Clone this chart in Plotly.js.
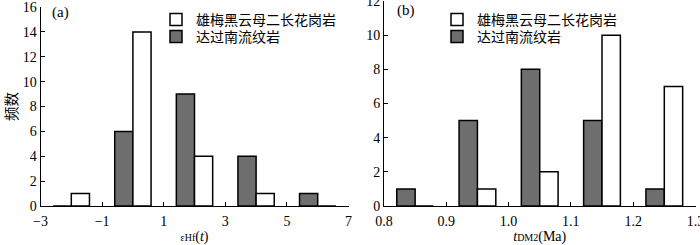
<!DOCTYPE html>
<html>
<head>
<meta charset="utf-8">
<script src="https://cdn.plot.ly/plotly-3.0.1.min.js"></script>
<style>html,body{margin:0;padding:0;background:#fff;}#chart{width:700px;height:245px;}</style>
</head>
<body>
<div id="chart"></div>
<script>
// Panel (a): εHf(t) histogram
var epsCats = [-2, 0, 2, 4, 6];
var epsGranite = [1, 14, 4, 1, 0];   // 雄梅黑云母二长花岗岩 (white)
var epsRhyolite = [0, 6, 9, 4, 1];   // 达过南流纹岩 (gray)
var epsTicks = [-3, -1, 1, 3, 5, 7];

// Panel (b): tDM2 histogram
var tdmCats = [0.85, 0.95, 1.05, 1.15, 1.25];
var tdmGranite = [0, 1, 2, 10, 7];
var tdmRhyolite = [1, 5, 8, 5, 1];
var tdmTicks = [0.8, 0.9, 1.0, 1.1, 1.2, 1.3];

var nameGranite = '雄梅黑云母二长花岗岩';
var nameRhyolite = '达过南流纹岩';

var FONT = '"Liberation Serif", "Times New Roman", serif';
var CJK = '"Noto Sans CJK SC", sans-serif';
var GRAY = '#6e6e6e';
var lineStyle = {color: '#000', width: 1.5};

var traces = [
  {type: 'bar', x: epsCats, y: epsRhyolite, name: nameRhyolite, xaxis: 'x', yaxis: 'y',
   marker: {color: GRAY, line: lineStyle}, legend: 'legend2'},
  {type: 'bar', x: epsCats, y: epsGranite, name: nameGranite, xaxis: 'x', yaxis: 'y',
   marker: {color: '#fff', line: lineStyle}, legend: 'legend'},
  {type: 'bar', x: tdmCats, y: tdmRhyolite, name: nameRhyolite, xaxis: 'x2', yaxis: 'y2',
   marker: {color: GRAY, line: lineStyle}, legend: 'legend4'},
  {type: 'bar', x: tdmCats, y: tdmGranite, name: nameGranite, xaxis: 'x2', yaxis: 'y2',
   marker: {color: '#fff', line: lineStyle}, legend: 'legend3'}
];

var axBase = {
  showline: true, linecolor: '#000', linewidth: 1,
  ticks: 'inside', ticklen: 4, tickcolor: '#000', tickwidth: 1,
  showgrid: false, zeroline: false, automargin: false,
  ticklabeloverflow: 'allow',
  tickfont: {family: FONT, size: 14, color: '#000'}
};

function ax(extra) { return Object.assign({}, axBase, extra); }

function leg(xpx, ypx) {
  return {
    bgcolor: 'rgba(0,0,0,0)', borderwidth: 0,
    font: {family: CJK, size: 14, color: '#000'},
    xanchor: 'left', yanchor: 'middle', itemwidth: 30, indentation: -10,
    x: xpx / 700, y: 1 - ypx / 245,
    itemclick: false, itemdoubleclick: false
  };
}

var layout = {
  width: 700, height: 245,
  margin: {l: 0, r: 0, t: 0, b: 0},
  paper_bgcolor: '#fff', plot_bgcolor: 'rgba(0,0,0,0)',
  barmode: 'group', bargap: 0.41, bargroupgap: 0,
  showlegend: true,
  font: {family: FONT, color: '#000'},
  xaxis: ax({domain: [40.5/700, 348.5/700], range: [-3, 7.0001], tickvals: epsTicks, anchor: 'y',
    ticklabelstandoff: 2,
    title: {text: '<span style="font-size:10px">εHf</span>(<i>t</i>)', font: {family: FONT, size: 14}, standoff: 3}}),
  yaxis: ax({domain: [39/245, 238/245], range: [0, 16.0001], dtick: 2, anchor: 'x',
    title: {text: '频数', font: {family: CJK, size: 14.5}, standoff: 3}}),
  xaxis2: ax({domain: [384/700, 695.5/700], range: [0.8, 1.3001], tickvals: tdmTicks, tickformat: '.1f', anchor: 'y2',
    ticklabelstandoff: 2,
    title: {text: '<i>t</i><span style="font-size:10px">DM2</span>(Ma)', font: {family: FONT, size: 14}, standoff: 3}}),
  yaxis2: ax({domain: [39/245, 244/245], range: [0, 12.0001], dtick: 2, anchor: 'x2'}),
  legend: leg(166, 20),
  legend2: leg(166, 37),
  legend3: leg(447, 20),
  legend4: leg(447, 37),
  annotations: [
    {xref: 'paper', yref: 'paper', x: 50/700, y: 1 - 13/245, text: '(a)', showarrow: false,
     xanchor: 'left', yanchor: 'middle', font: {family: FONT, size: 15, color: '#000'}},
    {xref: 'paper', yref: 'paper', x: 395/700, y: 1 - 11/245, text: '(b)', showarrow: false,
     xanchor: 'left', yanchor: 'middle', font: {family: FONT, size: 15, color: '#000'}}
  ]
};

Plotly.newPlot('chart', traces, layout, {staticPlot: true, displayModeBar: false});
</script>
</body>
</html>
